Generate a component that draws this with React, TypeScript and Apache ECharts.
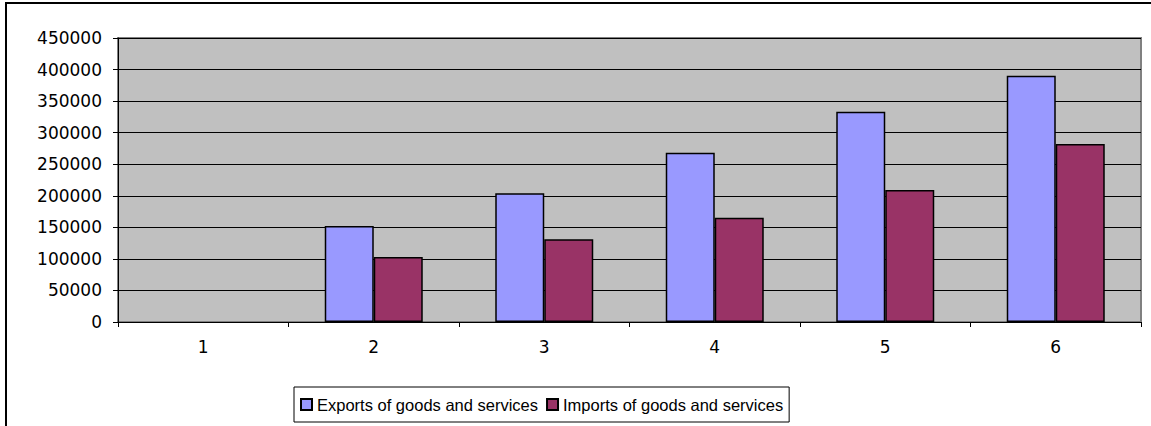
import React, { useEffect, useRef } from "react";
import * as echarts from "echarts";

const categories = ["1", "2", "3", "4", "5", "6"];
const exportsValues: (number | null)[] = [null, 152000, 204000, 268000, 333000, 390000];
const importsValues: (number | null)[] = [null, 103000, 131000, 165000, 209000, 282000];
const seriesNames = ["Exports of goods and services", "Imports of goods and services"];

export default function App() {
  const ref = useRef<HTMLDivElement>(null);
  useEffect(() => {
    if (!ref.current) return;
    const chart = echarts.init(ref.current, undefined, { renderer: "svg" });
    const axisFont = { fontFamily: "DejaVu Sans", fontSize: 17, color: "#000" };
    chart.setOption({
      animation: false,
      backgroundColor: "#fff",
      graphic: [
        {
          type: "rect",
          shape: { x: 6, y: 3, width: 1300, height: 600 },
          style: { fill: "none", stroke: "#000", lineWidth: 2 },
          z: -1,
        },
      ],
      grid: {
        left: 118,
        top: 38,
        right: 10,
        bottom: 104,
        show: true,
        backgroundColor: "#C0C0C0",
        borderColor: "#808080",
        borderWidth: 2,
      },
      legend: {
        left: 294,
        top: 387,
        padding: [9, 6, 9, 6],
        itemGap: 8,
        itemWidth: 11,
        itemHeight: 11,
        icon: "rect",
        borderColor: "#000",
        borderWidth: 1,
        backgroundColor: "#fff",
        textStyle: { fontFamily: "Liberation Sans", fontSize: 16.5, color: "#000", padding: [0, 0, 0, 0] },
        data: seriesNames,
      },
      xAxis: {
        type: "category",
        data: categories,
        boundaryGap: true,
        axisLine: { lineStyle: { color: "#000", width: 1 } },
        axisTick: { show: true, length: 5, alignWithLabel: false, lineStyle: { color: "#000" } },
        axisLabel: { ...axisFont, margin: 16 },
        splitLine: { show: false },
      },
      yAxis: {
        type: "value",
        min: 0,
        max: 450000,
        interval: 50000,
        axisLine: { show: true, lineStyle: { color: "#000", width: 1 } },
        axisTick: { show: true, length: 5, lineStyle: { color: "#000" } },
        axisLabel: { ...axisFont, margin: 16, formatter: (v: number) => String(v) },
        splitLine: { show: true, lineStyle: { color: "#000", width: 1 } },
      },
      series: [
        {
          name: seriesNames[0],
          type: "bar",
          data: exportsValues,
          barWidth: 49,
          barGap: "0%",
          itemStyle: { color: "#9999FF", borderColor: "#000", borderWidth: 1.5 },
        },
        {
          name: seriesNames[1],
          type: "bar",
          data: importsValues,
          barWidth: 49,
          barGap: "0%",
          itemStyle: { color: "#993366", borderColor: "#000", borderWidth: 1.5 },
        },
      ],
    });
    return () => chart.dispose();
  }, []);
  return (
    <div
      ref={ref}
      style={{ position: "fixed", left: 0, top: 0, width: 1151, height: 426 }}
    />
  );
}
